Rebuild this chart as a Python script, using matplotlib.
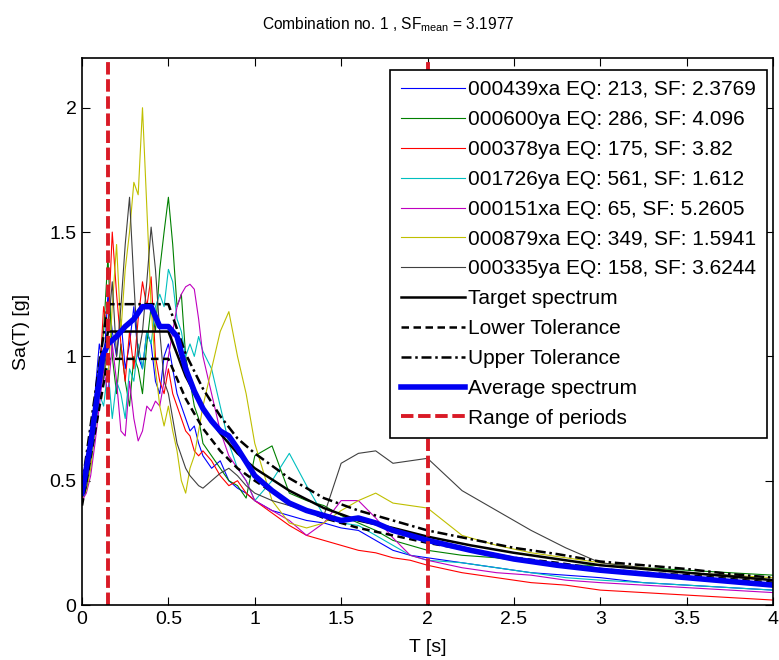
import numpy as np
import matplotlib
matplotlib.use("Agg")
import matplotlib.pyplot as plt
from matplotlib.ticker import FormatStrFormatter

plt.rcParams["font.family"] = ["Liberation Sans", "DejaVu Sans"]
plt.rcParams["mathtext.fontset"] = "custom"
plt.rcParams["mathtext.rm"] = "Liberation Sans"
plt.rcParams["mathtext.default"] = "regular"

# ---------- data ----------
T_rec = [0, 0.025, 0.05, 0.075, 0.1, 0.125, 0.15, 0.175, 0.2, 0.225, 0.25, 0.275,
         0.3, 0.325, 0.35, 0.375, 0.4, 0.425, 0.45, 0.475, 0.5, 0.525, 0.55, 0.575,
         0.6, 0.625, 0.65, 0.675, 0.7, 0.75, 0.8, 0.85, 0.9, 0.95, 1.0, 1.1, 1.2,
         1.3, 1.4, 1.5, 1.6, 1.7, 1.8, 1.9, 2.0, 2.2, 2.4, 2.6, 2.8, 3.0, 3.25,
         3.5, 3.75, 4.0]

sa_000439xa = [0.44, 0.48, 0.60, 0.85, 1.05, 0.95, 1.25, 1.10, 1.00, 1.15, 0.95, 1.05,
               1.20, 1.00, 0.95, 1.10, 1.05, 0.90, 0.85, 1.00, 1.05, 0.95, 0.85, 0.80,
               0.75, 0.70, 0.72, 0.65, 0.60, 0.55, 0.58, 0.50, 0.47, 0.45, 0.42, 0.38, 0.36,
               0.34, 0.33, 0.31, 0.30, 0.26, 0.22, 0.20, 0.19, 0.17, 0.15, 0.13, 0.12, 0.11, 0.09,
               0.08, 0.07, 0.06]
sa_000600ya = [0.45, 0.50, 0.62, 0.80, 0.95, 1.10, 1.40, 1.00, 0.85, 1.05, 0.90, 0.80,
               1.00, 0.95, 0.85, 1.05, 1.20, 1.10, 1.35, 1.50, 1.64, 1.45, 1.20, 1.25,
               1.00, 0.90, 0.80, 0.75, 0.65, 0.60, 0.55, 0.50, 0.48, 0.43, 0.60, 0.64, 0.45,
               0.42, 0.40, 0.36, 0.33, 0.30, 0.26, 0.24, 0.22, 0.20, 0.19, 0.17, 0.16, 0.16, 0.15,
               0.14, 0.13, 0.12]
sa_000378ya = [0.43, 0.47, 0.58, 0.75, 0.90, 1.20, 1.10, 1.50, 1.25, 1.05, 0.90, 1.10,
               0.95, 1.15, 1.30, 1.20, 1.32, 1.00, 0.90, 0.85, 0.95, 0.85, 0.80, 0.75,
               0.70, 0.68, 0.62, 0.60, 0.62, 0.58, 0.52, 0.48, 0.50, 0.45, 0.42, 0.37, 0.32,
               0.28, 0.26, 0.24, 0.22, 0.21, 0.19, 0.18, 0.16, 0.13, 0.11, 0.09, 0.08, 0.06, 0.05,
               0.04, 0.03, 0.02]
sa_001726ya = [0.44, 0.47, 0.55, 0.70, 0.85, 0.80, 0.95, 0.75, 0.90, 0.85, 0.75, 0.95,
               0.90, 1.05, 0.95, 1.10, 1.05, 1.20, 1.25, 1.20, 1.35, 1.30, 1.15, 1.10,
               1.00, 1.05, 1.00, 1.08, 1.02, 0.95, 0.80, 0.65, 0.55, 0.50, 0.42, 0.50, 0.61,
               0.48, 0.36, 0.33, 0.32, 0.28, 0.24, 0.20, 0.18, 0.17, 0.15, 0.13, 0.11, 0.10, 0.09,
               0.08, 0.07, 0.06]
sa_000151xa = [0.42, 0.45, 0.52, 0.65, 0.80, 0.95, 0.85, 1.05, 0.90, 0.70, 0.68, 0.90,
               0.75, 0.66, 0.70, 0.80, 0.78, 0.82, 0.80, 0.90, 1.00, 1.10, 1.20, 1.25,
               1.28, 1.29, 1.27, 1.15, 1.00, 0.85, 0.70, 0.60, 0.55, 0.50, 0.42, 0.38, 0.34,
               0.28, 0.33, 0.42, 0.42, 0.35, 0.27, 0.20, 0.18, 0.15, 0.13, 0.12, 0.10, 0.09, 0.08,
               0.07, 0.06, 0.05]
sa_000879xa = [0.43, 0.46, 0.55, 0.70, 0.85, 1.00, 0.90, 1.20, 1.45, 1.10, 1.35, 1.50,
               1.70, 1.65, 2.00, 1.60, 1.20, 0.95, 0.80, 0.72, 0.80, 0.70, 0.62, 0.50,
               0.45, 0.55, 0.60, 0.70, 0.80, 0.95, 1.10, 1.18, 1.00, 0.85, 0.65, 0.42, 0.33,
               0.31, 0.33, 0.38, 0.42, 0.45, 0.41, 0.40, 0.39, 0.28, 0.24, 0.21, 0.19, 0.17, 0.15,
               0.13, 0.12, 0.11]
sa_000335ya = [0.44, 0.47, 0.60, 0.80, 1.00, 0.90, 1.10, 1.30, 1.00, 1.20, 1.45, 1.64,
               1.30, 1.00, 1.10, 1.30, 1.52, 1.35, 1.10, 0.90, 0.85, 0.75, 0.65, 0.60,
               0.55, 0.52, 0.50, 0.48, 0.47, 0.50, 0.53, 0.55, 0.52, 0.48, 0.45, 0.42, 0.40,
               0.38, 0.36, 0.57, 0.61, 0.62, 0.57, 0.58, 0.59, 0.46, 0.38, 0.30, 0.23, 0.17, 0.15,
               0.13, 0.12, 0.10]

records = [sa_000439xa, sa_000600ya, sa_000378ya, sa_001726ya,
           sa_000151xa, sa_000879xa, sa_000335ya]
record_labels = ["000439xa EQ: 213, SF: 2.3769", "000600ya EQ: 286, SF: 4.096",
                 "000378ya EQ: 175, SF: 3.82", "001726ya EQ: 561, SF: 1.612",
                 "000151xa EQ: 65, SF: 5.2605", "000879xa EQ: 349, SF: 1.5941",
                 "000335ya EQ: 158, SF: 3.6244"]

T_target = [0, 0.15, 0.5, 0.6, 0.7, 0.8, 0.9, 1.0, 1.2, 1.4, 1.6, 1.8, 2.0,
            2.25, 2.5, 2.75, 3.0, 3.25, 3.5, 3.75, 4.0]
sa_target = [0.44, 1.10, 1.10, 0.92, 0.79, 0.69, 0.61, 0.55, 0.46, 0.39, 0.34, 0.31, 0.275,
             0.24, 0.21, 0.185, 0.16, 0.145, 0.13, 0.115, 0.10]
sa_lower = [0.40, 0.99, 0.99, 0.83, 0.71, 0.62, 0.55, 0.50, 0.41, 0.35, 0.31, 0.28, 0.25,
            0.22, 0.19, 0.17, 0.145, 0.13, 0.12, 0.105, 0.09]
sa_upper = [0.48, 1.21, 1.21, 1.01, 0.87, 0.76, 0.67, 0.61, 0.51, 0.43, 0.38, 0.34, 0.30,
            0.265, 0.23, 0.205, 0.175, 0.16, 0.145, 0.125, 0.11]

T_avg = [0, 0.05, 0.1, 0.12, 0.15, 0.2, 0.25, 0.3, 0.35, 0.4, 0.45, 0.5, 0.55, 0.6,
         0.65, 0.7, 0.75, 0.8, 0.85, 0.9, 1.0, 1.1, 1.2, 1.3, 1.4, 1.5, 1.6, 1.7, 1.8,
         1.9, 2.0, 2.25, 2.5, 2.75, 3.0, 3.25, 3.5, 3.75, 4.0]
sa_avg = [0.45, 0.65, 0.90, 1.00, 1.05, 1.08, 1.12, 1.15, 1.20, 1.20, 1.12, 1.12, 1.08, 0.95,
          0.86, 0.79, 0.74, 0.70, 0.68, 0.63, 0.52, 0.46, 0.41, 0.38, 0.36, 0.34, 0.35, 0.33,
          0.30, 0.28, 0.26, 0.22, 0.185, 0.16, 0.14, 0.125, 0.11, 0.095, 0.08]

period_range = [0.15, 2.0]
sf_mean = 3.1977

colors = [(0, 0, 1), (0, 0.5, 0), (1, 0, 0), (0, 0.75, 0.75),
          (0.75, 0, 0.75), (0.75, 0.75, 0), (0.25, 0.25, 0.25)]

# ---------- figure ----------
fig = plt.figure(figsize=(7.79, 6.6), dpi=100)
ax = fig.add_axes([0.1053, 0.0833, 0.887, 0.8288])

for sa, lab, c in zip(records, record_labels, colors):
    ax.plot(T_rec, sa, color=c, lw=0.8, label=lab)

ax.plot(T_target, sa_target, color="k", lw=1.8, label="Target spectrum")
ax.plot(T_target, sa_lower, color="k", lw=1.8, dashes=(3, 1.8), label="Lower Tolerance")
ax.plot(T_target, sa_upper, color="k", lw=1.8, dashes=(4, 1.5, 1, 1.5), label="Upper Tolerance")
ax.plot(T_avg, sa_avg, color=(0, 0, 0.95), lw=4, label="Average spectrum")
for i, tp in enumerate(period_range):
    ax.plot([tp, tp], [0, 2.2], color=(0.85, 0.1, 0.15), lw=2.8, dashes=(3.2, 1.2),
            label="Range of periods" if i == 0 else None)

ax.set_xlim(0, 4)
ax.set_ylim(0, 2.2)
ax.set_xticks(np.arange(0, 4.01, 0.5))
ax.set_yticks([0, 0.5, 1, 1.5, 2])
ax.xaxis.set_major_formatter(FormatStrFormatter("%g"))
ax.yaxis.set_major_formatter(FormatStrFormatter("%g"))
ax.tick_params(direction="in", top=True, right=True, labelsize=14, length=6, pad=4)
for s in ax.spines.values():
    s.set_linewidth(1.2)

ax.set_xlabel("T [s]", fontsize=14, labelpad=8)
ax.set_ylabel("Sa(T) [g]", fontsize=14, labelpad=14)
# MATLAB puts the title slightly left of the axes centre
fig.text(0.499, 0.977, "Combination no. 1 , SF$_{mean}$ = %.4f" % sf_mean,
         fontsize=11.2, ha="center", va="top")

leg = ax.legend(loc="upper right", bbox_to_anchor=(0.991, 0.978), borderaxespad=0,
                fontsize=15, handlelength=3.1, handletextpad=0.15, labelspacing=0.52,
                borderpad=0.5, fancybox=False, framealpha=1, edgecolor="k")
leg.get_frame().set_linewidth(1.2)

fig.savefig("out.png", dpi=100)
